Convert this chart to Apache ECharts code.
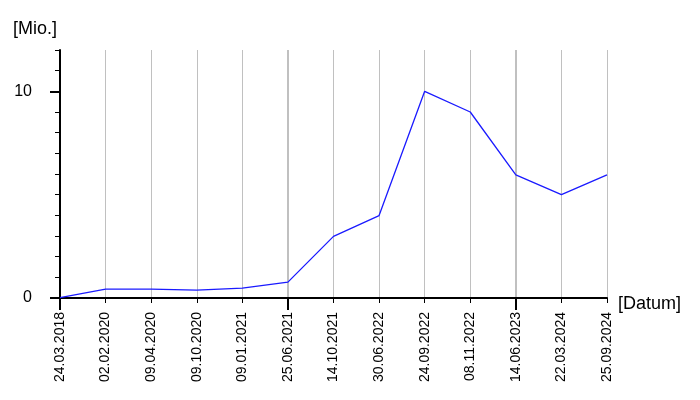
<!DOCTYPE html>
<html><head><meta charset="utf-8">
<script src="https://cdn.jsdelivr.net/npm/echarts@6/dist/echarts.min.js"></script>
<style>html,body{margin:0;padding:0;background:#fff}#c{width:700px;height:400px}</style>
</head><body><div id="c"></div>
<script>
const categories = ['24.03.2018','02.02.2020','09.04.2020','09.10.2020','09.01.2021','25.06.2021','14.10.2021','30.06.2022','24.09.2022','08.11.2022','14.06.2023','22.03.2024','25.09.2024'];
const values = [0.02, 0.43, 0.43, 0.38, 0.48, 0.77, 2.98, 3.99, 10.0, 9.0, 5.96, 5.0, 5.96];
const yMajorTicks = [0, 10];
const yMax = 12;

const font = 'Liberation Sans, Arial, sans-serif';
const chart = echarts.init(document.getElementById('c'));
chart.setOption({
  animation: false,
  grid: {left: 60, right: 93, top: 50, bottom: 102, containLabel: false},
  xAxis: [{
    type: 'category', data: categories, boundaryGap: false, position: 'bottom',
    axisLine: {show: true, lineStyle: {color: '#000', width: 2}},
    axisTick: {show: true, interval: 0, length: 5, lineStyle: {color: '#000', width: 1}},
    axisLabel: {interval: 0, rotate: 90, margin: 14, color: '#000', fontSize: 14, fontFamily: font},
    splitLine: {show: true, interval: 0, lineStyle: {color: '#c0c0c0', width: 1}},
    name: '[Datum]', nameLocation: 'end', nameGap: 11,
    nameTextStyle: {color: '#000', fontSize: 18, fontFamily: font, verticalAlign: 'top', lineHeight: 12}
  }, {
    type: 'category', data: categories, boundaryGap: false, position: 'bottom',
    axisLine: {show: false},
    axisTick: {show: true, interval: 4, length: 12, lineStyle: {color: '#000', width: 2}},
    axisLabel: {show: false},
    splitLine: {show: true, interval: 4, lineStyle: {color: '#c0c0c0', width: 2}}
  }],
  yAxis: [{
    type: 'value', min: 0, max: yMax, interval: 1, position: 'left',
    axisLine: {show: true, lineStyle: {color: '#000', width: 2}},
    axisTick: {show: true, length: 5, lineStyle: {color: '#000', width: 1}},
    axisLabel: {show: false},
    splitLine: {show: false},
    name: '[Mio.]', nameLocation: 'end', nameGap: 12,
    nameTextStyle: {color: '#000', fontSize: 18, fontFamily: font, align: 'right', padding: [0, 3, 0, 0]}
  }, {
    type: 'value', min: 0, max: yMax, interval: 10, position: 'left',
    axisLine: {show: false},
    axisTick: {show: true, length: 10, customValues: yMajorTicks, lineStyle: {color: '#000', width: 2}},
    axisLabel: {show: true, customValues: yMajorTicks, margin: 28, color: '#000', fontSize: 16, fontFamily: font},
    splitLine: {show: true, showMinLine: false, showMaxLine: false, lineStyle: {color: '#c0c0c0', width: 2}}
  }],
  series: [{
    type: 'line', data: values, xAxisIndex: 0, yAxisIndex: 0,
    showSymbol: false, symbol: 'none',
    lineStyle: {color: '#1a1aff', width: 1.3}, z: 5
  }]
});
</script></body></html>
